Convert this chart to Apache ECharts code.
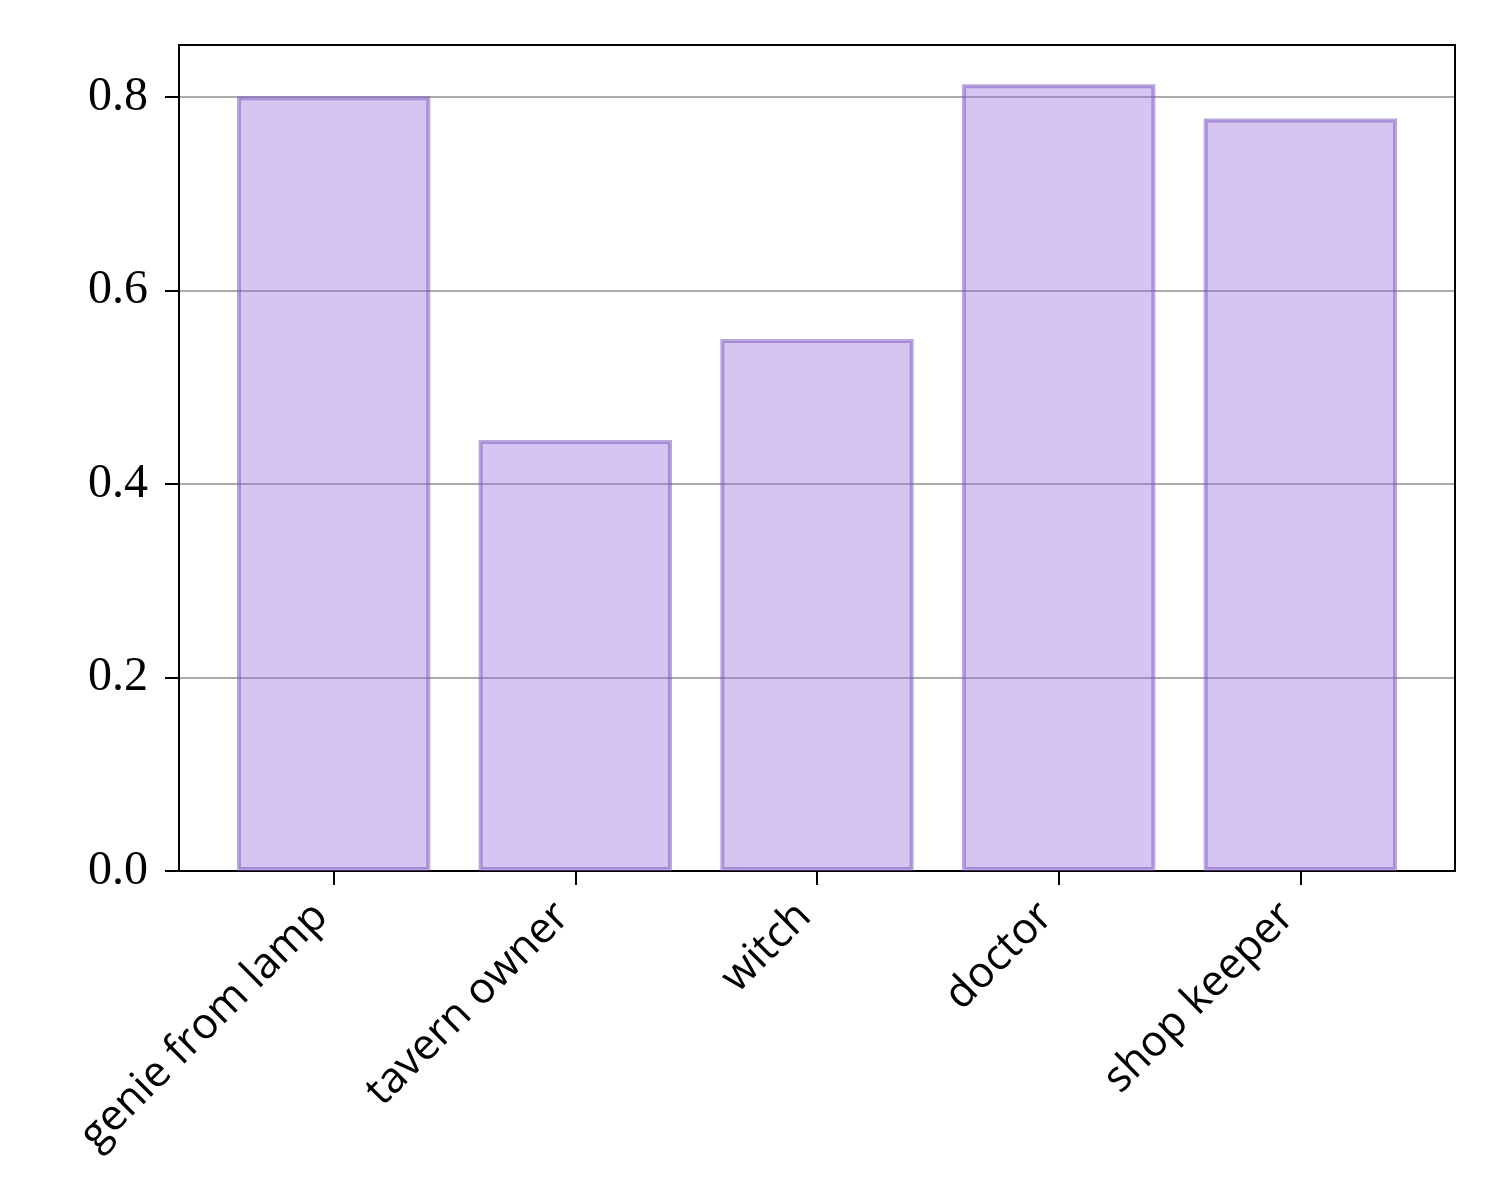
<!DOCTYPE html>
<html>
<head>
<meta charset="utf-8">
<script src="https://cdn.jsdelivr.net/npm/echarts@6/dist/echarts.min.js"></script>
<style>html,body{margin:0;padding:0;background:#fff}#c{width:1500px;height:1200px}</style>
</head>
<body>
<div id="c"></div>
<script>
const categories = ['genie from lamp', 'tavern owner', 'witch', 'doctor', 'shop keeper'];
const values = [0.801, 0.4455, 0.55, 0.8134, 0.778];
const yTicks = [0, 0.2, 0.4, 0.6, 0.8];

const chart = echarts.init(document.getElementById('c'), null, {renderer: 'canvas'});
const yMax = 0.854;
chart.setOption({
  animation: false,
  backgroundColor: '#fff',
  grid: [
    {left: 179, right: 45, top: 45, bottom: 329, show: true, borderColor: '#000', borderWidth: 2, backgroundColor: 'transparent', containLabel: false},
    {left: 212.8, right: 78.8, top: 45, bottom: 329, containLabel: false}
  ],
  xAxis: [
    {type: 'value', gridIndex: 0, min: 0, max: 1, show: false},
    {type: 'category', gridIndex: 1, data: categories, boundaryGap: true,
      axisLine: {show: false},
      axisTick: {show: true, alignWithLabel: true, length: 14, lineStyle: {color: '#000', width: 2}},
      axisLabel: {rotate: 45, margin: 26, fontFamily: 'Open Sans', fontSize: 43, color: '#000', interval: 0,
        padding: [0, 18, 0, 0]}
    }
  ],
  yAxis: [
    {type: 'value', gridIndex: 0, min: 0, max: yMax, interval: 0.2,
      axisLine: {show: true, lineStyle: {color: '#000', width: 2}},
      axisTick: {show: true, length: 14, lineStyle: {color: '#000', width: 2}},
      axisLabel: {fontFamily: 'Liberation Serif', fontSize: 48, color: '#000', margin: 31,
        formatter: v => yTicks.some(t => Math.abs(t - v) < 1e-9) ? v.toFixed(1) : '', showMaxLabel: false},
      splitLine: {show: true, lineStyle: {color: 'rgba(0,0,0,0.33)', width: 2}}
    },
    {type: 'value', gridIndex: 1, min: 0, max: yMax, show: false, splitLine: {show: false}}
  ],
  series: [{
    type: 'bar', xAxisIndex: 1, yAxisIndex: 1, data: values, barWidth: '80%',
    itemStyle: {color: 'rgba(147,112,219,0.4)', borderColor: 'rgba(120,80,190,0.5)', borderWidth: 4}
  }]
});
</script>
</body>
</html>
